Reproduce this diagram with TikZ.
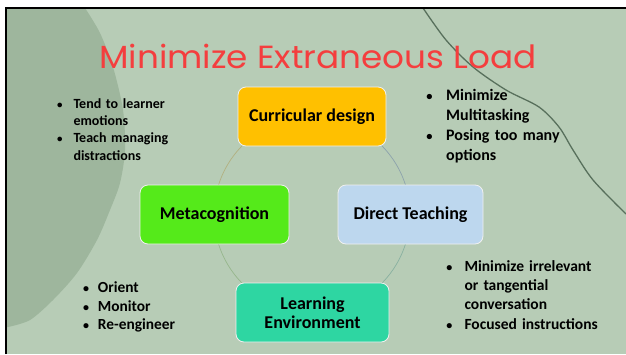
\documentclass[tikz,border=0pt]{standalone}
\usepackage{fontspec}
\setmainfont{Carlito}
\newfontfamily\titlefont{Poppins}
\usetikzlibrary{calc}
\definecolor{bg}{RGB}{183,204,182}
\definecolor{bgdark}{RGB}{158,182,157}
\definecolor{titlered}{RGB}{244,62,62}
\definecolor{curvecol}{RGB}{88,112,92}
\definecolor{cyellow}{RGB}{255,192,0}
\definecolor{cgreen}{RGB}{85,234,26}
\definecolor{cblue}{RGB}{189,215,238}
\definecolor{cteal}{RGB}{46,214,162}
\definecolor{arcA}{RGB}{178,176,128}
\definecolor{arcB}{RGB}{140,162,172}
\definecolor{arcC}{RGB}{150,182,140}
\definecolor{arcD}{RGB}{136,176,160}
\newcommand\bulitem[1]{\makebox[#1][l]{\scalebox{0.78}{•}}}
\newcommand\bulind[1]{\hspace*{#1}}
\begin{document}
\begin{tikzpicture}[x=1pt,y=-1pt,
  box/.style={rounded corners=8pt, draw=white!88!gray, line width=0.8pt,
    minimum height=59pt, inner sep=0pt, align=center,
    font=\fontsize{18}{19}\selectfont\bfseries},
  bullets/.style 2 args={anchor=base west, inner sep=0pt, text width=220pt, align=left,
    font=\fontsize{#1}{#2}\selectfont\bfseries},
  ring/.style={line width=0.7pt}]
\useasboundingbox (0,0) rectangle (626,354);
\fill[white] (0,0) rectangle (626,354);
\fill[bg] (6,8) rectangle (626,354);
\fill[bgdark] (6,8) -- plot[smooth] coordinates {(85,8) (100,33) (113,67) (123,110) (125,150) (120,183) (110,210) (97,240) (77,273) (53,300) (30,320) (8,327)} -- (6,327) -- cycle;
\draw[curvecol, line width=1.3pt] plot[smooth] coordinates {(423,8) (446,40) (473,67) (506,90) (539,107) (559,127) (573,150) (593,180) (626,214)};
\draw[black, line width=2.4pt] (6.2,354) -- (6.2,8.2) -- (626,8.2);

\coordinate (ctr) at (312,214.5);
\draw[ring, arcA] ($(ctr)+(180:98)$) arc[start angle=180, end angle=270, radius=98];
\draw[ring, arcB] ($(ctr)+(270:98)$) arc[start angle=270, end angle=360, radius=98];
\draw[ring, arcD] ($(ctr)+(0:98)$) arc[start angle=0, end angle=90, radius=98];
\draw[ring, arcC] ($(ctr)+(90:98)$) arc[start angle=90, end angle=180, radius=98];

\node[font=\titlefont\fontsize{32}{38}\selectfont, text=titlered, anchor=base, xscale=1.07] (title) at (318,68) {Minimize Extraneous Load};

\node[box, fill=cyellow, minimum width=148pt] (curr) at (312,116.5) {Curricular design};
\node[box, fill=cblue, minimum width=145pt] (direct) at (410.5,214.5) {Direct Teaching};
\node[box, fill=cgreen, minimum width=149pt] (meta) at (214.5,214.5) {Metacognition};
\node[box, fill=cteal, minimum width=153pt] (env) at (312.5,312.5) {Learning\\[-0.5pt]Environment};

\node[bullets={14}{17.4}] (tl) at (57,108) {\bulitem{16.3pt}Tend to learner\\ \bulind{16.3pt}emotions\\ \bulitem{16.3pt}Teach managing\\ \bulind{16.3pt}distractions};
\node[bullets={16}{20}] (tr) at (426.2,100) {\bulitem{19.8pt}Minimize\\ \bulind{19.8pt}Multitasking\\ \bulitem{19.8pt}Posing too many\\ \bulind{19.8pt}options};
\node[bullets={15.4}{18.7}] (bl) at (82.9,292.3) {\bulitem{14.8pt}Orient\\ \bulitem{14.8pt}Monitor\\ \bulitem{14.8pt}Re-engineer};
\node[bullets={15.5}{19.1}] (br) at (446.2,271.7) {\bulitem{18.1pt}Minimize irrelevant\\ \bulind{18.1pt}or tangential\\ \bulind{18.1pt}conversation\\ \bulitem{18.1pt}Focused instructions};
\end{tikzpicture}
\end{document}
